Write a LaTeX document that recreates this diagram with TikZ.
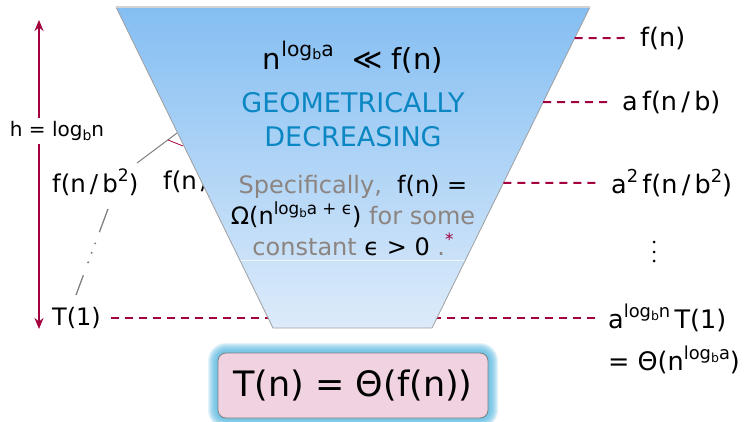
\documentclass[tikz,border=0pt]{standalone}
\usepackage{fontspec}
\setmainfont{DejaVu Sans}
\usepackage{graphicx}
\usetikzlibrary{arrows.meta,calc}
\definecolor{maroon}{HTML}{A3003F}
\definecolor{geo}{HTML}{0A87C2}
\definecolor{spec}{HTML}{8C8480}
\definecolor{topblue}{HTML}{84BEF2}
\definecolor{botblue}{HTML}{DDEBFA}
\definecolor{pinkbox}{HTML}{F0D2E0}
\definecolor{glow}{HTML}{5AB8E0}
\newcommand\up[1]{\raisebox{0.45em}{\scalebox{0.7}{#1}}}
\newcommand\dn[1]{\raisebox{-0.18em}{\scalebox{0.7}{#1}}}
\begin{document}
\begin{tikzpicture}[x=1pt,y=-1pt,
  big/.style={font=\fontsize{25.5}{28}\selectfont, inner sep=2pt},
  reddash/.style={draw=maroon, line width=2pt, dash pattern=on 8pt off 6pt, shorten >=9pt},
  treeline/.style={draw=gray, line width=1pt}]
\useasboundingbox (0,0) rectangle (752,422);

% hidden part of the recursion tree
\node[big, anchor=west, font=\fontsize{24.5}{28}\selectfont] (l2) at (50,182) {f(n\,/\,b\up{2})};
\node[big, anchor=west, font=\fontsize{24.5}{28}\selectfont] (l2b) at (161,182) {f(n\,/};
\coordinate (tp) at (177,133);
\coordinate (tq) at (137,163);
\draw[treeline] (tp) -- (tq);
\coordinate (ra) at (168,140);
\coordinate (rb) at (183,146);
\draw[maroon, line width=0.8pt] (ra) -- (rb);
\coordinate (da) at (108,209);
\coordinate (db) at (76,295);
\draw[treeline, line width=1.3pt] (da) -- ($(da)!0.27!(db)$);
\draw[treeline, line width=1.3pt] ($(da)!0.77!(db)$) -- (db);
\fill[gray] ($(da)!0.40!(db)$) circle (1.1pt) ($(da)!0.51!(db)$) circle (1.1pt) ($(da)!0.62!(db)$) circle (1.1pt);
\node[big, anchor=west, font=\fontsize{24}{28}\selectfont] (t1) at (50,318) {T(1)};
\node[big, anchor=west] (alog) at (606,318) {a\up{log\dn{b}n}\,T(1)};
\draw[reddash, shorten <=8pt] (t1.east) -- (alog.west);

% trapezoid
\coordinate (TL) at (116,7);
\coordinate (TR) at (590,7);
\coordinate (BR) at (432,328);
\coordinate (BL) at (273,328);
\shade[top color=topblue, bottom color=botblue] (TL) -- (TR) -- (BR) -- (BL) -- cycle;
\draw[white, opacity=0.7, line width=0.8pt] ($(TL)!0.788!(BL)$) -- ($(TR)!0.788!(BR)$);
\draw[gray!75, line width=0.8pt] (TL) -- (BL) -- (BR) -- (TR);
\draw[gray!35, line width=1.2pt] (TL) -- (TR);

% text inside trapezoid
\node[font=\fontsize{29}{32}\selectfont] (cmp) at (353,57) {n\up{log\dn{b}a}\ \ ≪\ f(n)};
\node[font=\fontsize{27}{34}\selectfont, text=geo, align=center] (geom) at (353,120) {GEOMETRICALLY\\DECREASING};
\node[font=\fontsize{24}{31}\selectfont, align=center, text=spec] (specif) at (353,216)
  {Specifically,\ \ \textcolor{black}{f(n) =}\\
   \textcolor{black}{Ω(n\up{log\dn{b}a + ϵ})} for some\\
   constant \textcolor{black}{ϵ > 0} .\textcolor{maroon}{\up{*}}};

% right-hand labels
\node[big, anchor=west] (fn) at (638,38) {f(n)};
\node[big, anchor=west] (afnb) at (620,102) {a\,f(n\,/\,b)};
\node[big, anchor=west] (a2) at (609,183) {a\up{2}\,f(n\,/\,b\up{2})};
\node[big, anchor=west] (theta) at (606,360) {= Θ(n\up{log\dn{b}a})};
\coordinate (vd) at (654,252);
\fill (654,242) circle (1.5pt) (654,252) circle (1.5pt) (654,261) circle (1.5pt);

\draw[reddash] ($(TR)!0.0966!(BR)$) -- (fn.west);
\draw[reddash] ($(TR)!0.296!(BR)$) -- (afnb.west);
\draw[reddash] ($(TR)!0.548!(BR)$) -- (a2.west);

% height arrow
\coordinate (htop) at (39,20);
\coordinate (hbot) at (39,329);
\draw[maroon, line width=2.2pt, {Stealth[length=11pt,width=9pt]}-{Stealth[length=11pt,width=9pt]}] (hbot) -- (htop);
\node[fill=white, font=\fontsize{20}{22}\selectfont, inner sep=3pt] (h) at (57,131) {h = log\dn{b}n};

% result box
\foreach \i in {1,...,10}
  \fill[glow, opacity=0.17, rounded corners={(8+\i)*1pt}] (218-\i,353-\i) rectangle (488+\i,418+\i);
\node[draw=gray, line width=0.8pt, fill=pinkbox, rounded corners=8pt, minimum width=270pt, minimum height=65pt, font=\fontsize{35}{38}\selectfont] (res) at (353,385.5) {T(n) = Θ(f(n))};
\end{tikzpicture}
\end{document}
